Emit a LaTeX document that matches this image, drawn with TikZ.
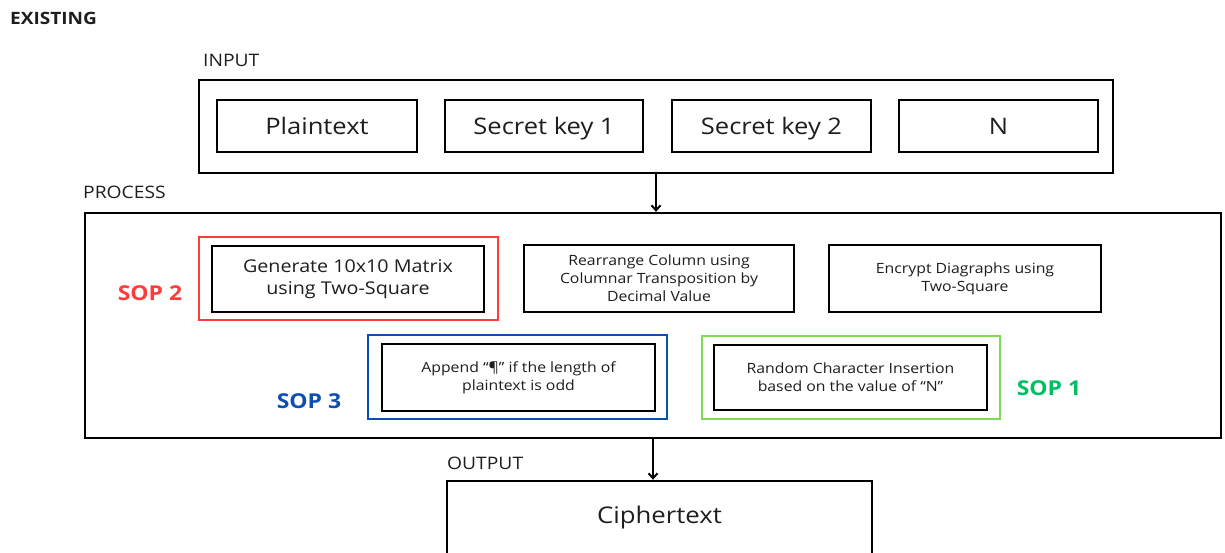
\documentclass[tikz,border=0pt]{standalone}
\usepackage{fontspec}
\setmainfont{Open Sans}[FakeStretch=1.12]
\usetikzlibrary{arrows.meta}
\definecolor{sopred}{HTML}{FF3B3B}
\definecolor{sopblue}{HTML}{0B4FB0}
\definecolor{sopgreenbox}{HTML}{7ED957}
\definecolor{sopgreentext}{HTML}{00BF63}
\definecolor{txt}{HTML}{1E1E1E}
\begin{document}
\begin{tikzpicture}[x=1pt,y=-1pt,
  frame/.style={draw=black,line width=2.4pt,inner sep=0pt},
  blk/.style={draw=black,line width=2.6pt,inner sep=0pt,align=center,fill=white,text=txt},
  sopframe/.style={line width=2.4pt,inner sep=0pt},
  sect/.style={anchor=west,inner sep=0pt,font=\fontsize{17.2}{20}\selectfont,text=txt},
  big/.style={font=\fontsize{22.8}{27}\selectfont,text height=17pt,text depth=0pt},
  mid/.style={font=\fontsize{17.6}{22}\selectfont},
  small/.style={font=\fontsize{14.1}{18}\selectfont},
  soplab/.style={inner sep=0pt,font=\bfseries\fontsize{20.5}{24}\selectfont},
  arr/.style={line width=2pt,-{Straight Barb[length=5pt,width=9pt,line width=2pt]}}]
\useasboundingbox (0,0) rectangle (1225,553);
\clip (0,0) rectangle (1225,553);

\node[anchor=west,inner sep=0pt,font=\bfseries\fontsize{17}{20}\selectfont,text=txt] (existing) at (10,18) {EXISTING};

% INPUT
\node[sect] (inputlab) at (203,60) {INPUT};
\node[frame,minimum width=914,minimum height=93] (input) at (656,126.5) {};
\node[blk,big,minimum width=200,minimum height=52] (plain) at (317,126) {Plaintext};
\node[blk,big,minimum width=198,minimum height=52] (sk1) at (544,126) {Secret key 1};
\node[blk,big,minimum width=199,minimum height=52] (sk2) at (771.5,126) {Secret key 2};
\node[blk,big,minimum width=199,minimum height=52] (n) at (998.5,126) {N};

% PROCESS
\node[sect] (proclab) at (83,192) {PROCESS};
\node[frame,minimum width=1136,minimum height=225] (process) at (653,325.5) {};

\node[sopframe,draw=sopred,minimum width=299,minimum height=83] (red) at (348.5,278.5) {};
\node[blk,mid,minimum width=272,minimum height=66] (gen) at (348,279) {Generate 10x10 Matrix\\using Two-Square};
\node[soplab,text=sopred] (sop2) at (150,293) {SOP 2};

\node[blk,small,minimum width=270,minimum height=67] (rearr) at (659,278.5) {Rearrange Column using\\Columnar Transposition by\\Decimal Value};
\node[blk,small,minimum width=272,minimum height=67] (enc) at (965,278.5) {Encrypt Diagraphs using\\Two-Square};

\node[sopframe,draw=sopblue,minimum width=299,minimum height=84] (blue) at (517.5,377) {};
\node[blk,small,minimum width=273,minimum height=67] (app) at (518.5,377.5) {Append “¶” if the length of\\plaintext is odd};
\node[soplab,text=sopblue] (sop3) at (309,401) {SOP 3};

\node[sopframe,draw=sopgreenbox,minimum width=298,minimum height=83] (green) at (851,377.5) {};
\node[blk,small,minimum width=273,minimum height=65] (rand) at (850.5,377.5) {Random Character Insertion\\based on the value of “N”};
\node[soplab,text=sopgreentext] (sop1) at (1049,388) {SOP 1};

% OUTPUT
\node[sect] (outlab) at (447,463) {OUTPUT};
\node[frame,minimum width=425,minimum height=160] (output) at (659.5,561) {};
\node[font=\fontsize{23}{27}\selectfont,text=txt] (cipher) at (659.5,518) {Ciphertext};

\draw[arr] (input.south) -- (process.north -| input.south);
\draw[arr] (process.south) -- (process.south |- output.north);
\end{tikzpicture}
\end{document}
